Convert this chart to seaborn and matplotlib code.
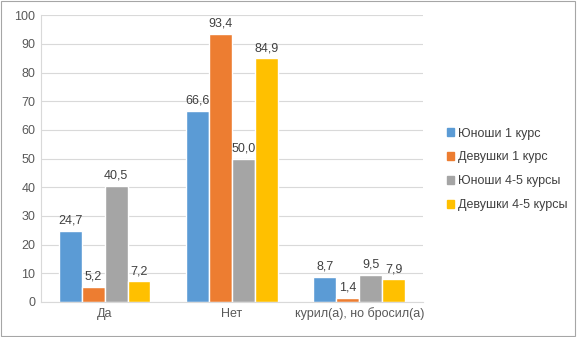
import matplotlib
matplotlib.use("Agg")
import matplotlib.pyplot as plt
import seaborn as sns
import pandas as pd
from matplotlib.patches import Rectangle

categories = ["Да", "Нет", "курил(а), но бросил(а)"]
series = ["Юноши 1 курс", "Девушки 1 курс", "Юноши 4-5 курсы", "Девушки 4-5 курсы"]
boys_1 = [24.7, 66.6, 8.7]
girls_1 = [5.2, 93.4, 1.4]
boys_45 = [40.5, 50.0, 9.5]
girls_45 = [7.2, 84.9, 7.9]
colors = ["#5B9BD5", "#ED7D31", "#A5A5A5", "#FFC000"]

rows = []
for name, vals in zip(series, [boys_1, girls_1, boys_45, girls_45]):
    for cat, v in zip(categories, vals):
        rows.append({"cat": cat, "series": name, "value": v})
df = pd.DataFrame(rows)

sns.set_style("white")
plt.rcParams["font.family"] = ["Liberation Sans", "DejaVu Sans"]

fig = plt.figure(figsize=(5.77, 3.37), dpi=100)
ax = fig.add_axes([0.071, 0.104, 0.662, 0.851])

sns.barplot(data=df, x="cat", y="value", hue="series", order=categories,
            hue_order=series, palette=colors, width=0.72, saturation=1,
            ax=ax, legend=False)

for cont in ax.containers:
    ax.bar_label(cont, labels=[f"{v:.1f}".replace(".", ",") for v in cont.datavalues],
                 padding=3, fontsize=9, color="#404040")

ax.set_ylim(0, 100)
ax.set_yticks(range(0, 101, 10))
ax.set_xlim(-0.5, 2.5)
ax.yaxis.grid(True, color="#D9D9D9", linewidth=0.8)
ax.set_axisbelow(True)
ax.set_xlabel("")
ax.set_ylabel("")
for s in ["top", "right"]:
    ax.spines[s].set_visible(False)
ax.spines["left"].set_color("#D9D9D9")
ax.spines["bottom"].set_color("#D9D9D9")
ax.tick_params(axis="both", labelsize=9, colors="#595959", length=0, pad=4)
ax.set_xticks([0.5, 1.5], minor=True)
ax.tick_params(axis="x", which="minor", length=5, color="#D9D9D9")

handles = [Rectangle((0, 0), 1, 1, color=c) for c in colors]
fig.legend(handles, series, loc="upper left", bbox_to_anchor=(0.755, 0.655),
           frameon=False, fontsize=9, handlelength=0.6, handleheight=0.6,
           handletextpad=0.3, labelspacing=0.95, labelcolor="#404040")

fig.add_artist(Rectangle((0.002, 0.003), 0.995, 0.994, transform=fig.transFigure,
                         fill=False, edgecolor="#A6A6A6", linewidth=0.8))

fig.savefig("out.png", dpi=100)
